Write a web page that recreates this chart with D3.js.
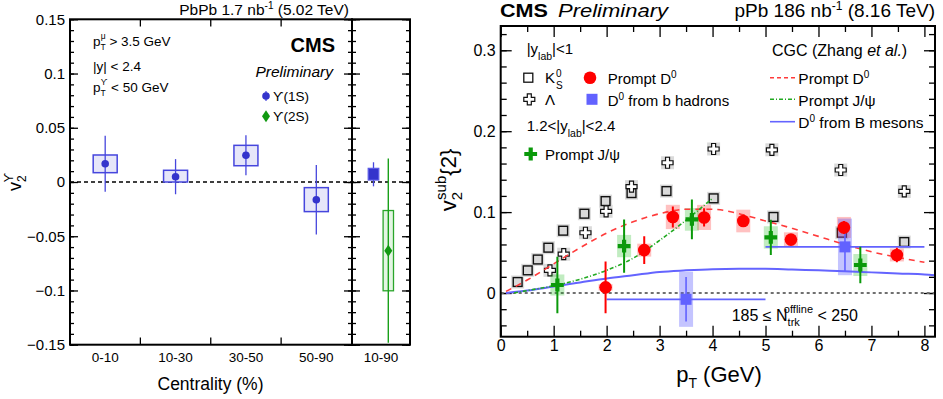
<!DOCTYPE html>
<html><head><meta charset="utf-8">
<script src="https://cdn.jsdelivr.net/npm/d3@7"></script>
<style>body{margin:0;background:#fff}svg{display:block}text{font-family:"Liberation Sans",Arial,Helvetica,sans-serif}</style>
</head><body><svg id="c" width="943" height="399"></svg>
<script>
// ================= LEFT PANEL DATA (PbPb, Upsilon v2 vs centrality) =================
const centralityBins = ["0-10", "10-30", "30-50", "50-90"];
const integratedBin = ["10-90"];
const ups1S_v2 = [0.0168, 0.0049, 0.0246, -0.0163];
const ups1S_stat = [0.0258, 0.0162, 0.0184, 0.0320];
const ups1S_sysUp = [0.0081, 0.0059, 0.0092, 0.0111];
const ups1S_sysDown = [0.0082, 0.0049, 0.0096, 0.0110];
// integrated 10-90%: [Y(1S), Y(2S)]
const int_v2 = [0.0071, -0.0633];
const int_stat = [0.0111, 0.0850];
const int_sysUp = [0.0055, 0.0370];
const int_sysDown = [0.0053, 0.0370];
const leftYTicks = [-0.15, -0.1, -0.05, 0, 0.05, 0.1, 0.15];

// ================= RIGHT PANEL DATA (pPb, v2sub{2} vs pT) =================
const k0s_pt = [0.32, 0.51, 0.70, 0.90, 1.18, 1.58, 1.98, 2.47, 3.13, 4.02, 5.15, 6.44, 7.62];
const k0s_v2 = [0.0136, 0.028, 0.0414, 0.056, 0.077, 0.098, 0.1136, 0.1235, 0.126, 0.117, 0.094, 0.0745, 0.063];
const lambda_pt = [0.93, 1.19, 1.60, 1.99, 2.47, 3.15, 4.02, 5.12, 6.42, 7.62];
const lambda_v2 = [0.028, 0.048, 0.0745, 0.101, 0.1315, 0.161, 0.178, 0.177, 0.152, 0.1255];
const d0_pt = [1.98, 2.71, 3.25, 3.84, 4.58, 5.48, 6.48, 7.48];
const d0_v2 = [0.007, 0.053, 0.094, 0.0934, 0.089, 0.066, 0.081, 0.047];
const d0_stat = [0.032, 0.017, 0.013, 0.0113, 0.006, 0.005, 0.008, 0.009];
const d0_sys = [0.004, 0.008, 0.015, 0.0155, 0.014, 0.009, 0.013, 0.008];
const bD0_pt = [3.5, 6.5];
const bD0_ptLo = [2.0, 5.0];
const bD0_ptHi = [5.0, 8.0];
const bD0_v2 = [-0.0078, 0.057];
const bD0_stat = [0.0275, 0.030];
const bD0_sys = [0.034, 0.035];
const jpsi_pt = [1.07, 2.33, 3.61, 5.10, 6.79];
const jpsi_v2 = [0.0099, 0.058, 0.091, 0.0687, 0.0346];
const jpsi_stat = [0.035, 0.033, 0.0245, 0.0217, 0.0225];
const jpsi_sys = [0.013, 0.0138, 0.014, 0.0138, 0.0136];
// CGC (Zhang et al.) curves
const cgc_pt = [0.1, 0.5, 1.0, 1.5, 2.0, 2.5, 3.0, 3.5, 4.0, 4.5, 5.0, 5.5, 6.0, 6.5, 7.0, 7.5, 8.0];
const cgc_D0 = [0.002, 0.016, 0.036, 0.056, 0.074, 0.088, 0.098, 0.1035, 0.1035, 0.098, 0.089, 0.080, 0.070, 0.060, 0.051, 0.044, 0.038];
const cgcJpsi_pt = [0.25, 0.5, 1.0, 1.5, 2.0, 2.5, 3.0, 3.5, 4.0];
const cgc_Jpsi = [0.0, 0.003, 0.009, 0.017, 0.028, 0.043, 0.065, 0.090, 0.117];
const cgcB_pt = [0.1, 0.5, 1.0, 1.5, 2.0, 2.5, 3.0, 3.5, 4.0, 4.5, 5.0, 5.5, 6.0, 6.5, 7.0, 7.5, 8.0, 8.2];
const cgc_B = [0.0, 0.003, 0.008, 0.013, 0.018, 0.022, 0.026, 0.028, 0.0295, 0.030, 0.030, 0.029, 0.028, 0.027, 0.0255, 0.024, 0.023, 0.022];
const rightXTicks = [0, 1, 2, 3, 4, 5, 6, 7, 8];
const rightYTicks = [0, 0.1, 0.2, 0.3];

const svg = d3.select("#c");
const F = '"Liberation Sans", Arial, Helvetica, sans-serif';
const minus = d => d < 0 ? "\u2212" + String(Math.abs(d)) : String(d);
function cleanAxis(g, fs) {
  g.select(".domain").remove();
  g.selectAll("line").attr("stroke", "#000").attr("stroke-width", 1.3);
  g.selectAll("text").attr("font-size", fs).attr("font-family", F).attr("fill", "#000");
}
function crossPath(a, w) {
  return `M${-w},${-a}L${w},${-a}L${w},${-w}L${a},${-w}L${a},${w}L${w},${w}L${w},${a}L${-w},${a}L${-w},${w}L${-a},${w}L${-a},${-w}L${-w},${-w}Z`;
}

// ================= LEFT PANEL =================
const xL = d3.scaleBand().domain(centralityBins).range([70, 351.5]);
const xLi = d3.scaleBand().domain(integratedBin).range([352, 410]);
const yL = d3.scaleLinear().domain([-0.15, 0.15]).range([344.7, 19.3]);
const L = svg.append("g");

// zero line
L.append("line").attr("x1", 70).attr("x2", 410).attr("y1", yL(0)).attr("y2", yL(0))
  .attr("stroke", "#000").attr("stroke-width", 1.3).attr("stroke-dasharray", "4,3");

// axes ticks
L.append("g").attr("transform", "translate(70,0)")
  .call(d3.axisLeft(yL).tickValues(leftYTicks).tickSize(-8).tickPadding(5).tickFormat(minus)).call(g => cleanAxis(g, 15));
L.append("g").attr("transform", "translate(70,0)")
  .call(d3.axisLeft(yL).tickValues(yL.ticks(30)).tickSize(-4).tickFormat("")).call(g => cleanAxis(g, 15));
[[352, 8, 4], [352, -8, -4]].forEach(([x, M, m]) => {
  L.append("g").attr("transform", `translate(${x},0)`)
    .call(d3.axisLeft(yL).tickValues(leftYTicks).tickSize(M).tickFormat("")).call(g => cleanAxis(g, 15));
  L.append("g").attr("transform", `translate(${x},0)`)
    .call(d3.axisLeft(yL).tickValues(yL.ticks(30)).tickSize(m).tickFormat("")).call(g => cleanAxis(g, 15));
});
L.append("g").attr("transform", "translate(410,0)")
  .call(d3.axisRight(yL).tickValues(leftYTicks).tickSize(-8).tickFormat("")).call(g => cleanAxis(g, 15));
L.append("g").attr("transform", "translate(410,0)")
  .call(d3.axisRight(yL).tickValues(yL.ticks(30)).tickSize(-4).tickFormat("")).call(g => cleanAxis(g, 15));
centralityBins.slice(1).forEach(c => {
  L.append("line").attr("x1", xL(c)).attr("x2", xL(c)).attr("y1", 344.7).attr("y2", 337.5).attr("stroke", "#000").attr("stroke-width", 1.3);
  L.append("line").attr("x1", xL(c)).attr("x2", xL(c)).attr("y1", 19.3).attr("y2", 26.5).attr("stroke", "#000").attr("stroke-width", 1.3);
});
// frames
L.append("rect").attr("x", 70).attr("y", 19.3).attr("width", 282).attr("height", 325.4).attr("fill", "none").attr("stroke", "#000").attr("stroke-width", 2);
L.append("rect").attr("x", 352).attr("y", 19.3).attr("width", 58).attr("height", 325.4).attr("fill", "none").attr("stroke", "#000").attr("stroke-width", 2);

// category labels
centralityBins.forEach(c => L.append("text").attr("x", xL(c) + xL.bandwidth() / 2).attr("y", 361.5)
  .attr("text-anchor", "middle").attr("font-size", 13.5).text(c));
integratedBin.forEach(c => L.append("text").attr("x", xLi(c) + xLi.bandwidth() / 2).attr("y", 361.5)
  .attr("text-anchor", "middle").attr("font-size", 13.5).text(c));
L.append("text").attr("x", 210.5).attr("y", 390).attr("text-anchor", "middle").attr("font-size", 17.5).text("Centrality (%)");

// y label
const ylab = L.append("text").attr("transform", "translate(21,182) rotate(-90)").attr("text-anchor", "middle").attr("font-size", 18);
ylab.append("tspan").text("v");
ylab.append("tspan").attr("dy", 5).attr("font-size", 12).text("2");
ylab.append("tspan").attr("dx", -7).attr("dy", -13).attr("font-size", 12).text("\u03D2");

// Y(1S) per centrality
const blue1 = "#3434cc";
const c1 = i => xL(centralityBins[i]) + xL.bandwidth() / 2;
const bw1 = 24;
ups1S_v2.forEach((v, i) => {
  L.append("rect").attr("x", c1(i) - bw1 / 2).attr("width", bw1)
    .attr("y", yL(v + ups1S_sysUp[i])).attr("height", yL(v - ups1S_sysDown[i]) - yL(v + ups1S_sysUp[i]))
    .attr("fill", "#e6e6f9").attr("stroke", "#4646dd").attr("stroke-width", 1.5);
  L.append("line").attr("x1", c1(i)).attr("x2", c1(i)).attr("y1", yL(v + ups1S_stat[i])).attr("y2", yL(v - ups1S_stat[i]))
    .attr("stroke", "#4646dd").attr("stroke-width", 1.3);
  L.append("circle").attr("cx", c1(i)).attr("cy", yL(v)).attr("r", 3.8).attr("fill", blue1);
});
// integrated
const cI = xLi("10-90") + xLi.bandwidth() / 2;
const intX = [cI - 7.5, cI + 7.3];
// 1S
L.append("line").attr("x1", intX[0]).attr("x2", intX[0]).attr("y1", yL(int_v2[0] + int_stat[0])).attr("y2", yL(int_v2[0] - int_stat[0]))
  .attr("stroke", "#4646dd").attr("stroke-width", 1.3);
L.append("rect").attr("x", intX[0] - 5.3).attr("width", 10.6)
  .attr("y", yL(int_v2[0] + int_sysUp[0])).attr("height", yL(int_v2[0] - int_sysDown[0]) - yL(int_v2[0] + int_sysUp[0]))
  .attr("fill", blue1).attr("stroke", "#5a5ae6").attr("stroke-width", 1.2);
// 2S
const green2 = "#119911";
L.append("rect").attr("x", intX[1] - 5.2).attr("width", 10.4)
  .attr("y", yL(int_v2[1] + int_sysUp[1])).attr("height", yL(int_v2[1] - int_sysDown[1]) - yL(int_v2[1] + int_sysUp[1]))
  .attr("fill", "#e4f5e4").attr("stroke", "#2aa52a").attr("stroke-width", 1.3);
L.append("line").attr("x1", intX[1]).attr("x2", intX[1]).attr("y1", yL(int_v2[1] + int_stat[1])).attr("y2", yL(int_v2[1] - int_stat[1]))
  .attr("stroke", "#1aa01a").attr("stroke-width", 1.4);
L.append("path").attr("transform", `translate(${intX[1]},${yL(int_v2[1])})`).attr("d", "M0,-6L4,0L0,6L-4,0Z").attr("fill", green2);

// texts
L.append("text").attr("x", 349).attr("y", 15).attr("text-anchor", "end").attr("font-size", 15.5)
  .call(t => { t.append("tspan").text("PbPb 1.7 nb"); t.append("tspan").attr("dy", -6).attr("font-size", 10).text("-1"); t.append("tspan").attr("dy", 6).text(" (5.02 TeV)"); });
L.append("text").attr("x", 335).attr("y", 52).attr("text-anchor", "end").attr("font-size", 20).attr("font-weight", "bold").text("CMS");
L.append("text").attr("x", 333).attr("y", 77).attr("text-anchor", "end").attr("font-size", 15.5).attr("font-style", "italic").text("Preliminary");
function ptLine(x, y, sup, rest) {
  const t = L.append("text").attr("x", x).attr("y", y).attr("font-size", 13.5);
  t.append("tspan").text("p");
  t.append("tspan").attr("font-size", 8.5).attr("dy", 4).text("T");
  t.append("tspan").attr("font-size", 8.5).attr("dx", -5).attr("dy", -11).text(sup);
  t.append("tspan").attr("dy", 7).text(rest);
}
ptLine(93, 46, "\u03BC", " > 3.5 GeV");
L.append("text").attr("x", 93).attr("y", 71).attr("font-size", 13.5).text("|y| < 2.4");
ptLine(93, 92, "\u03D2", " < 50 GeV");
// legend
L.append("line").attr("x1", 266).attr("x2", 266).attr("y1", 91).attr("y2", 101).attr("stroke", "#4646dd").attr("stroke-width", 1.2);
L.append("circle").attr("cx", 266).attr("cy", 96).attr("r", 3.8).attr("fill", blue1);
L.append("text").attr("x", 273).attr("y", 101).attr("font-size", 13.5).text("\u03D2(1S)");
L.append("path").attr("transform", "translate(266,116.3)").attr("d", "M0,-6L4,0L0,6L-4,0Z").attr("fill", green2);
L.append("text").attr("x", 273).attr("y", 121).attr("font-size", 13.5).text("\u03D2(2S)");

// ================= RIGHT PANEL =================
const x0 = 500.7, x1 = 935, y0 = 26, y1 = 336.7;
const xR = d3.scaleLinear().domain([0, 8.2]).range([x0, x1]);
const yR = d3.scaleLinear().domain([-0.054, 0.33]).range([y1, y0]);
const R = svg.append("g");
const defs = svg.append("defs");
defs.append("clipPath").attr("id", "clipR").append("rect").attr("x", x0).attr("y", y0).attr("width", x1 - x0).attr("height", y1 - y0);

// axes
R.append("g").attr("transform", `translate(${x0},0)`)
  .call(d3.axisLeft(yR).tickValues(rightYTicks).tickSize(-11).tickPadding(5).tickFormat(d => String(d))).call(g => cleanAxis(g, 16));
R.append("g").attr("transform", `translate(${x0},0)`)
  .call(d3.axisLeft(yR).tickValues(yR.ticks(20)).tickSize(-6).tickFormat("")).call(g => cleanAxis(g, 16));
R.append("g").attr("transform", `translate(${x1},0)`)
  .call(d3.axisRight(yR).tickValues(rightYTicks).tickSize(-11).tickFormat("")).call(g => cleanAxis(g, 16));
R.append("g").attr("transform", `translate(${x1},0)`)
  .call(d3.axisRight(yR).tickValues(yR.ticks(20)).tickSize(-6).tickFormat("")).call(g => cleanAxis(g, 16));
R.append("g").attr("transform", `translate(0,${y1})`)
  .call(d3.axisBottom(xR).tickValues(rightXTicks).tickSize(-11).tickPadding(3).tickFormat(d => String(d))).call(g => cleanAxis(g, 16));
R.append("g").attr("transform", `translate(0,${y1})`)
  .call(d3.axisBottom(xR).tickValues(d3.range(0.5, 8.2, 1)).tickSize(-6).tickFormat("")).call(g => cleanAxis(g, 16));
R.append("g").attr("transform", `translate(0,${y0})`)
  .call(d3.axisTop(xR).tickValues(rightXTicks).tickSize(-11).tickFormat("")).call(g => cleanAxis(g, 16));
R.append("g").attr("transform", `translate(0,${y0})`)
  .call(d3.axisTop(xR).tickValues(d3.range(0.5, 8.2, 1)).tickSize(-6).tickFormat("")).call(g => cleanAxis(g, 16));

// zero line
R.append("line").attr("x1", x0).attr("x2", x1).attr("y1", yR(0)).attr("y2", yR(0))
  .attr("stroke", "#707070").attr("stroke-width", 2).attr("stroke-dasharray", "3,3");

const P = R.append("g").attr("clip-path", "url(#clipR)");
const gray = "#dadada";
// K0S and Lambda sys boxes
k0s_pt.forEach((p, i) => P.append("rect").attr("x", xR(p) - 6.5).attr("y", yR(k0s_v2[i]) - 6.5).attr("width", 13).attr("height", 13).attr("fill", gray));
lambda_pt.forEach((p, i) => P.append("rect").attr("x", xR(p) - 6.5).attr("y", yR(lambda_v2[i]) - 6.5).attr("width", 13).attr("height", 13).attr("fill", gray));
k0s_pt.forEach((p, i) => P.append("rect").attr("x", xR(p) - 4.4).attr("y", yR(k0s_v2[i]) - 4.4).attr("width", 8.8).attr("height", 8.8)
  .attr("fill", "none").attr("stroke", "#111").attr("stroke-width", 1.4));
lambda_pt.forEach((p, i) => P.append("path").attr("transform", `translate(${xR(p)},${yR(lambda_v2[i])})`).attr("d", crossPath(5.5, 2))
  .attr("fill", "#fff").attr("stroke", "#111").attr("stroke-width", 1.2));

// sys boxes
d0_pt.forEach((p, i) => P.append("rect").attr("x", xR(p) - 7).attr("width", 14).attr("y", yR(d0_v2[i] + d0_sys[i])).attr("height", yR(d0_v2[i] - d0_sys[i]) - yR(d0_v2[i] + d0_sys[i]))
  .attr("fill", "#ff2020").attr("fill-opacity", 0.28));
jpsi_pt.forEach((p, i) => P.append("rect").attr("x", xR(p) - 7).attr("width", 14).attr("y", yR(jpsi_v2[i] + jpsi_sys[i])).attr("height", yR(jpsi_v2[i] - jpsi_sys[i]) - yR(jpsi_v2[i] + jpsi_sys[i]))
  .attr("fill", "#22bb22").attr("fill-opacity", 0.28));
bD0_pt.forEach((p, i) => P.append("rect").attr("x", xR(p) - 7).attr("width", 14).attr("y", yR(bD0_v2[i] + bD0_sys[i])).attr("height", yR(bD0_v2[i] - bD0_sys[i]) - yR(bD0_v2[i] + bD0_sys[i]))
  .attr("fill", "#5555ff").attr("fill-opacity", 0.35));

// CGC curves
const line = (xs, ys) => d3.line().x((d, i) => xR(xs[i])).y(d => yR(d)).curve(d3.curveMonotoneX)(ys);
P.append("path").attr("d", line(cgcB_pt, cgc_B)).attr("fill", "none").attr("stroke", "#6464ff").attr("stroke-width", 2);
P.append("path").attr("d", line(cgc_pt, cgc_D0)).attr("fill", "none").attr("stroke", "#ff3b3b").attr("stroke-width", 1.6).attr("stroke-dasharray", "6,5");
P.append("path").attr("d", line(cgcJpsi_pt, cgc_Jpsi)).attr("fill", "none").attr("stroke", "#22aa22").attr("stroke-width", 1.6).attr("stroke-dasharray", "4,2,1,2");

// D0 from b hadrons
const blueM = "#6262ff";
bD0_pt.forEach((p, i) => {
  P.append("line").attr("x1", xR(bD0_ptLo[i])).attr("x2", xR(bD0_ptHi[i])).attr("y1", yR(bD0_v2[i])).attr("y2", yR(bD0_v2[i])).attr("stroke", blueM).attr("stroke-width", 1.8);
  P.append("line").attr("x1", xR(p)).attr("x2", xR(p)).attr("y1", yR(bD0_v2[i] + bD0_stat[i])).attr("y2", yR(bD0_v2[i] - bD0_stat[i])).attr("stroke", blueM).attr("stroke-width", 1.6);
  P.append("rect").attr("x", xR(p) - 5.5).attr("y", yR(bD0_v2[i]) - 5.5).attr("width", 11).attr("height", 11).attr("fill", blueM);
});
// prompt D0
d0_pt.forEach((p, i) => {
  P.append("line").attr("x1", xR(p)).attr("x2", xR(p)).attr("y1", yR(d0_v2[i] + d0_stat[i])).attr("y2", yR(d0_v2[i] - d0_stat[i])).attr("stroke", "#ff0000").attr("stroke-width", 2);
  P.append("circle").attr("cx", xR(p)).attr("cy", yR(d0_v2[i])).attr("r", 6.3).attr("fill", "#ff0000");
});
// prompt J/psi
const greenM = "#0a990a";
jpsi_pt.forEach((p, i) => {
  P.append("line").attr("x1", xR(p)).attr("x2", xR(p)).attr("y1", yR(jpsi_v2[i] + jpsi_stat[i])).attr("y2", yR(jpsi_v2[i] - jpsi_stat[i])).attr("stroke", greenM).attr("stroke-width", 2);
  P.append("path").attr("transform", `translate(${xR(p)},${yR(jpsi_v2[i])})`).attr("d", crossPath(6.4, 2.1)).attr("fill", greenM);
});

// frame
R.append("rect").attr("x", x0).attr("y", y0).attr("width", x1 - x0).attr("height", y1 - y0).attr("fill", "none").attr("stroke", "#000").attr("stroke-width", 2);

// axis titles
const xt = R.append("text").attr("x", 719).attr("y", 382).attr("text-anchor", "middle").attr("font-size", 22);
xt.append("tspan").text("p"); xt.append("tspan").attr("dy", 6).attr("font-size", 14).text("T"); xt.append("tspan").attr("dy", -6).text(" (GeV)");
const yt = R.append("text").attr("transform", "translate(456,180) rotate(-90)").attr("text-anchor", "middle").attr("font-size", 22);
yt.append("tspan").text("v"); yt.append("tspan").attr("dy", 6).attr("font-size", 15).text("2");
yt.append("tspan").attr("dx", -8).attr("dy", -16).attr("font-size", 15).text("sub");
yt.append("tspan").attr("dy", 10).text("{2}");

// headers
R.append("text").attr("x", 500).attr("y", 17).attr("font-size", 18.5).attr("font-weight", "bold")
  .attr("textLength", 48).attr("lengthAdjust", "spacingAndGlyphs").text("CMS");
R.append("text").attr("x", 558).attr("y", 17).attr("font-size", 18.5).attr("font-style", "italic")
  .attr("textLength", 110).attr("lengthAdjust", "spacingAndGlyphs").text("Preliminary");
R.append("text").attr("x", 935).attr("y", 17).attr("text-anchor", "end").attr("font-size", 19)
  .call(t => { t.append("tspan").text("pPb 186 nb"); t.append("tspan").attr("dy", -7).attr("font-size", 12).text("-1"); t.append("tspan").attr("dy", 7).text(" (8.16 TeV)"); });

// legend
const fsL = 15;
function ylabText(x, y, pre, post) {
  const t = R.append("text").attr("x", x).attr("y", y).attr("font-size", fsL);
  t.append("tspan").text(pre + "y"); t.append("tspan").attr("dy", 6).attr("font-size", 10.5).text("lab"); t.append("tspan").attr("dy", -6).text(post);
}
ylabText(526.7, 54, "|", "|<1");
ylabText(526.7, 131, "1.2<|", "|<2.4");
R.append("rect").attr("x", 523.8).attr("y", 73.2).attr("width", 9).attr("height", 9).attr("fill", "none").attr("stroke", "#111").attr("stroke-width", 1.3);
R.append("text").attr("x", 545).attr("y", 83).attr("font-size", fsL).text("K");
R.append("text").attr("x", 556).attr("y", 77).attr("font-size", 10).text("0");
R.append("text").attr("x", 556).attr("y", 89).attr("font-size", 10).text("S");
R.append("path").attr("transform", "translate(529.3,99.3)").attr("d", crossPath(5.5, 2)).attr("fill", "#fff").attr("stroke", "#111").attr("stroke-width", 1.2);
R.append("text").attr("x", 545).attr("y", 105).attr("font-size", fsL).attr("font-family", '"Liberation Serif", "Times New Roman", serif').text("\u039B");
R.append("circle").attr("cx", 590).attr("cy", 77.7).attr("r", 6.3).attr("fill", "#ff0000");
R.append("rect").attr("x", 586.5).attr("y", 93.8).attr("width", 11).attr("height", 11).attr("fill", blueM);
function d0Text(x, y, rest, fs) {
  const t = R.append("text").attr("x", x).attr("y", y).attr("font-size", fs || fsL);
  t.append("tspan").text(rest[0]); t.append("tspan").attr("dy", -6).attr("font-size", 10).text("0"); t.append("tspan").attr("dy", 6).text(rest[1]);
}
d0Text(607.7, 84, ["Prompt D", ""]);
d0Text(607.7, 106, ["D", " from b hadrons"]);
R.append("path").attr("transform", "translate(530.7,154)").attr("d", crossPath(6.4, 2.1)).attr("fill", greenM);
R.append("text").attr("x", 545).attr("y", 160).attr("font-size", fsL).text("Prompt J/\u03C8");

const cg = R.append("text").attr("x", 772).attr("y", 56).attr("font-size", 16);
cg.append("tspan").text("CGC (Zhang "); cg.append("tspan").attr("font-style", "italic").text("et al."); cg.append("tspan").text(")");
R.append("line").attr("x1", 770).attr("x2", 795).attr("y1", 77.7).attr("y2", 77.7).attr("stroke", "#ff3b3b").attr("stroke-width", 1.4).attr("stroke-dasharray", "4,3");
R.append("line").attr("x1", 770).attr("x2", 795).attr("y1", 99.3).attr("y2", 99.3).attr("stroke", "#22aa22").attr("stroke-width", 1.4).attr("stroke-dasharray", "4,2,1,2");
R.append("line").attr("x1", 770).attr("x2", 795).attr("y1", 121.7).attr("y2", 121.7).attr("stroke", "#6464ff").attr("stroke-width", 1.6);
d0Text(798.3, 84, ["Prompt D", ""], 15.5);
R.append("text").attr("x", 798.3).attr("y", 106).attr("font-size", 15.5).text("Prompt J/\u03C8");
d0Text(798.3, 128, ["D", " from B mesons"], 15.5);

// N_trk text
const nt = R.append("text").attr("x", 731.7).attr("y", 321).attr("font-size", 16);
nt.append("tspan").text("185 \u2264 N");
nt.append("tspan").attr("dy", 5).attr("font-size", 11).text("trk");
nt.append("tspan").attr("dx", -16).attr("dy", -13).attr("font-size", 11).text("offline");
nt.append("tspan").attr("dy", 8).text(" < 250");
</script></body></html>
